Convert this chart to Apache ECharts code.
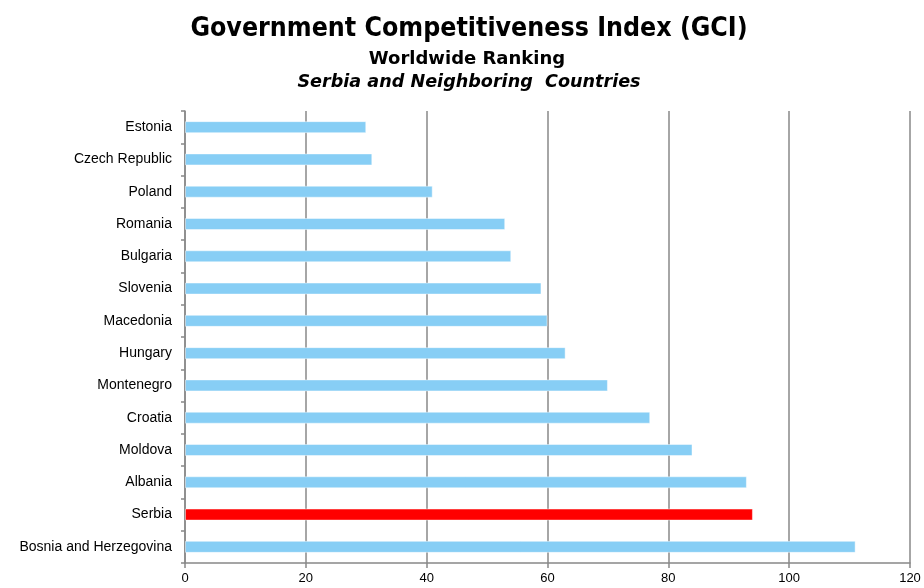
<!DOCTYPE html>
<html>
<head>
<meta charset="utf-8">
<script src="https://cdn.jsdelivr.net/npm/echarts@6/dist/echarts.min.js"></script>
<style>
  html, body { margin: 0; padding: 0; background: #fff; }
  #chart { width: 924px; height: 588px; }
</style>
</head>
<body>
<div id="chart"></div>
<script>
// Country ranking in the Government Competitiveness Index
const countries = [
  'Estonia', 'Czech Republic', 'Poland', 'Romania', 'Bulgaria', 'Slovenia',
  'Macedonia', 'Hungary', 'Montenegro', 'Croatia', 'Moldova', 'Albania',
  'Serbia', 'Bosnia and Herzegovina'
];
const ranks = [30, 31, 41, 53, 54, 59, 60, 63, 70, 77, 84, 93, 94, 111];
const highlighted = 'Serbia';
const xTicks = [0, 20, 40, 60, 80, 100, 120];

const baseColor = '#87CEF5';
const highlightColor = '#FF0000';
const labelFont = '"Liberation Sans Narrow", "Arial Narrow", "Liberation Sans", Arial, sans-serif';
const titleFont = '"DejaVu Sans Condensed", Tahoma, "DejaVu Sans", sans-serif';
const subFont = '"DejaVu Sans", Tahoma, sans-serif';
const titleX = 464;

const chart = echarts.init(document.getElementById('chart'), null, { renderer: 'canvas' });

chart.setOption({
  animation: false,
  backgroundColor: '#ffffff',
  title: [
    {
      text: 'Government Competitiveness Index (GCI)',
      left: titleX, top: 11, textAlign: 'center',
      textStyle: { fontFamily: titleFont, fontWeight: 'bold', fontSize: 26.5, color: '#000' }
    },
    {
      text: 'Worldwide Ranking',
      left: titleX - 2, top: 45, textAlign: 'center',
      textStyle: { fontFamily: subFont, fontWeight: 'bold', fontSize: 18, color: '#000' }
    },
    {
      text: 'Serbia and Neighboring  Countries',
      left: titleX, top: 68, textAlign: 'center',
      textStyle: { fontFamily: subFont, fontWeight: 'bold', fontStyle: 'italic', fontSize: 17.6, color: '#000' }
    }
  ],
  grid: { left: 185, right: 14, top: 111, bottom: 25, containLabel: false },
  xAxis: {
    type: 'value',
    min: xTicks[0],
    max: xTicks[xTicks.length - 1],
    interval: xTicks[1] - xTicks[0],
    axisLine: { show: true, lineStyle: { color: '#888888', width: 1.5 } },
    axisTick: { show: true, length: 5, lineStyle: { color: '#888888', width: 1.5 } },
    axisLabel: { color: '#000', fontFamily: labelFont, fontSize: 13, margin: 9 },
    splitLine: { show: true, lineStyle: { color: '#888888', width: 1.5 } }
  },
  yAxis: {
    type: 'category',
    inverse: true,
    data: countries,
    axisLine: { show: true, lineStyle: { color: '#888888', width: 1.5 } },
    axisTick: { show: true, length: 4, lineStyle: { color: '#888888', width: 1.5 } },
    axisLabel: { color: '#000', fontFamily: labelFont, fontSize: 14, margin: 13 },
    splitLine: { show: false }
  },
  series: [
    {
      type: 'bar',
      barWidth: 12,
      data: ranks.map((v, i) => ({
        value: v,
        itemStyle: { color: countries[i] === highlighted ? highlightColor : baseColor }
      })),
      itemStyle: { borderColor: 'rgba(255,255,255,0.45)', borderWidth: 1 },
      label: { show: false }
    }
  ]
});
</script>
</body>
</html>
